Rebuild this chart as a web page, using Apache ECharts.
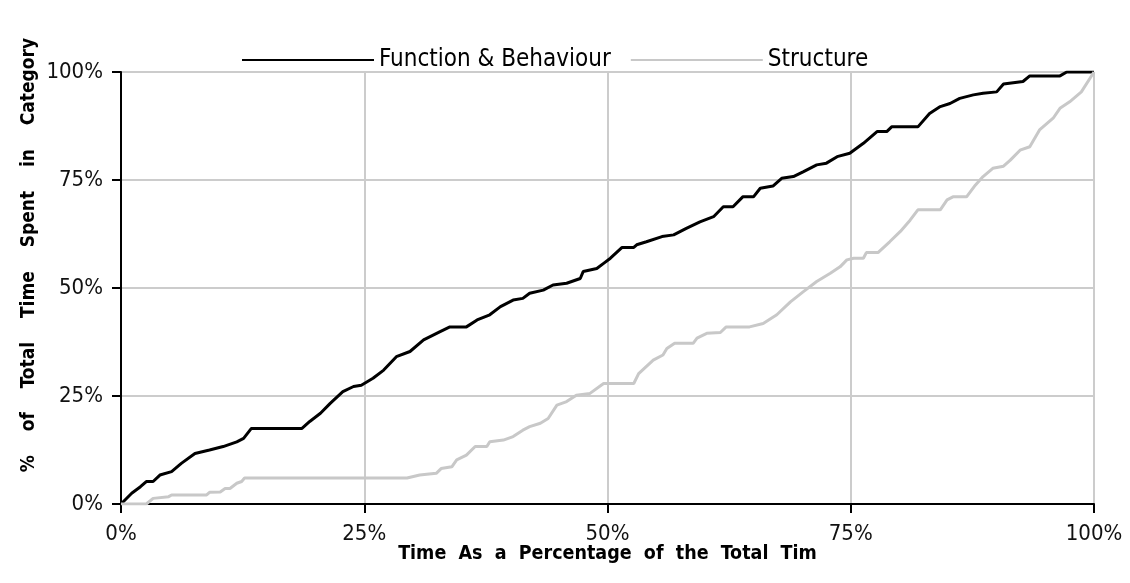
<!DOCTYPE html>
<html>
<head>
<meta charset="utf-8">
<title>Cumulative time per category</title>
<script src="https://cdn.jsdelivr.net/npm/echarts@6/dist/echarts.min.js"></script>
<style>
  html, body { margin: 0; padding: 0; background: #fff; }
  #chart { width: 1130px; height: 583px; }
</style>
</head>
<body>
<div id="chart"></div>
<script>
// Cumulative share of time spent in each category (percent) against elapsed session time (percent)
const fbTime = [0, 1.1, 2.0, 2.6, 3.3, 4.0, 5.2, 6.2, 7.6, 9.1, 10.5, 11.9, 12.6, 13.4, 18.6, 19.4, 20.5, 21.5, 22.8, 23.9,
  24.7, 25.9, 27.0, 28.3, 29.7, 31.1, 32.8, 33.8, 35.5, 36.6, 37.9, 39.0, 40.3, 41.3, 42.0, 43.4, 44.4, 45.8, 47.2, 47.5,
  48.9, 49.6, 50.3, 51.5, 52.7, 53.0, 54.0, 55.6, 56.8, 58.1, 59.5, 60.9, 61.9, 62.9, 63.9, 65.0, 65.7, 67.0, 67.9, 69.1,
  70.1, 71.5, 72.5, 73.6, 74.9, 76.3, 77.7, 78.7, 79.2, 81.9, 83.1, 84.2, 85.2, 86.2, 87.6, 88.6, 90.0, 90.7, 92.7, 93.4,
  96.5, 97.2, 100];
const fbShare = [0, 2.5, 4.0, 5.2, 5.2, 6.7, 7.5, 9.4, 11.7, 12.5, 13.3, 14.4, 15.2, 17.5, 17.5, 19.1, 21.0, 23.3, 26.0, 27.2,
  27.5, 29.1, 31.0, 34.1, 35.3, 38.0, 39.9, 41.0, 41.0, 42.6, 43.8, 45.7, 47.2, 47.6, 48.8, 49.5, 50.7, 51.1, 52.2, 53.8,
  54.5, 55.7, 56.9, 59.4, 59.4, 60.0, 60.7, 61.9, 62.3, 63.8, 65.3, 66.5, 68.8, 68.8, 71.1, 71.1, 73.1, 73.6, 75.4, 75.8,
  76.9, 78.5, 78.9, 80.4, 81.2, 83.5, 86.2, 86.2, 87.3, 87.3, 90.4, 92.0, 92.7, 93.9, 94.7, 95.1, 95.4, 97.2, 97.8, 99.1,
  99.1, 100, 100];

const stTime = [0, 2.6, 3.3, 4.9, 5.2, 8.8, 9.1, 10.2, 10.7, 11.2, 11.9, 12.4, 12.7, 29.4, 30.7, 32.4, 32.9, 34.0, 34.5, 35.5,
  36.4, 37.6, 37.9, 39.3, 40.3, 41.3, 42.0, 43.1, 43.9, 44.8, 45.8, 46.8, 48.2, 49.6, 52.7, 53.2, 54.7, 55.7, 56.1, 56.9,
  58.8, 59.2, 60.2, 61.6, 62.2, 64.6, 66.0, 67.4, 68.8, 70.1, 71.5, 72.9, 73.9, 74.6, 75.3, 76.3, 76.6, 77.8, 79.0, 80.1,
  81.1, 81.9, 84.2, 84.9, 85.5, 86.9, 87.8, 88.6, 89.6, 90.7, 91.4, 92.4, 93.4, 94.4, 95.8, 96.5, 97.5, 98.7, 100];
const stShare = [0, 0, 1.3, 1.7, 2.1, 2.1, 2.7, 2.8, 3.6, 3.6, 4.8, 5.2, 6.0, 6.0, 6.7, 7.1, 8.2, 8.6, 10.2, 11.3,
  13.3, 13.3, 14.4, 14.8, 15.6, 17.1, 17.9, 18.7, 19.8, 22.9, 23.7, 25.2, 25.6, 27.9, 27.9, 30.2, 33.3, 34.5, 36.0, 37.2,
  37.2, 38.4, 39.5, 39.7, 41.0, 41.0, 41.8, 43.8, 46.8, 49.1, 51.5, 53.4, 54.9, 56.5, 56.9, 56.9, 58.2, 58.2, 60.7, 63.1,
  65.7, 68.1, 68.1, 70.4, 71.1, 71.1, 73.8, 75.8, 77.7, 78.2, 79.6, 81.9, 82.7, 86.6, 89.3, 91.6, 93.1, 95.4, 100];

const seriesNames = ['Function & Behaviour', 'Structure'];
const axisTicks = [0, 25, 50, 75, 100];
const xTitle = 'Time  As  a  Percentage  of  the  Total  Tim';
const yTitle = '%    of    Total    Time    Spent    in    Category';

const pairs = (xs, ys) => xs.map((x, i) => [x, ys[i]]);
const FONT = '"DejaVu Sans Condensed", "DejaVu Sans", sans-serif';

const chart = echarts.init(document.getElementById('chart'), null, { renderer: 'canvas' });

const axisCommon = {
  type: 'value',
  min: axisTicks[0],
  max: axisTicks[axisTicks.length - 1],
  interval: axisTicks[1] - axisTicks[0],
  axisLine: { show: true, onZero: false, lineStyle: { color: '#000', width: 2 } },
  axisTick: { show: true, length: 9, lineStyle: { color: '#000', width: 2 } },
  splitLine: { show: true, lineStyle: { color: '#cccccc', width: 2 } },
  axisLabel: { formatter: '{value}%', color: '#111', fontFamily: FONT, fontSize: 22 },
  nameLocation: 'middle',
  nameMoveOverlap: false,
  nameTextStyle: { color: '#000', fontFamily: FONT, fontWeight: 'bold', fontSize: 19.5 }
};

chart.setOption({
  animation: false,
  backgroundColor: '#fff',
  grid: { left: 121, right: 36, top: 72, bottom: 79, containLabel: false },
  legend: {
    data: seriesNames,
    left: 237,
    top: 43,
    icon: 'rect',
    itemWidth: 132,
    itemHeight: 2,
    itemGap: 20,
    textStyle: { color: '#000', fontFamily: FONT, fontSize: 24 }
  },
  xAxis: Object.assign({}, axisCommon, {
    name: xTitle,
    nameGap: 40,
    axisLabel: Object.assign({}, axisCommon.axisLabel, { margin: 19 })
  }),
  yAxis: Object.assign({}, axisCommon, {
    name: yTitle,
    nameGap: 82,
    nameTextStyle: Object.assign({}, axisCommon.nameTextStyle, { fontSize: 19, padding: [0, 0, 0, 66] }),
    axisLabel: Object.assign({}, axisCommon.axisLabel, { margin: 18 })
  }),
  series: [
    {
      name: seriesNames[0],
      type: 'line',
      data: pairs(fbTime, fbShare),
      showSymbol: false,
      lineStyle: { color: '#000', width: 3 },
      itemStyle: { color: '#000' }
    },
    {
      name: seriesNames[1],
      type: 'line',
      data: pairs(stTime, stShare),
      showSymbol: false,
      lineStyle: { color: '#c8c8c8', width: 3 },
      itemStyle: { color: '#c8c8c8' }
    }
  ]
});
</script>
</body>
</html>
